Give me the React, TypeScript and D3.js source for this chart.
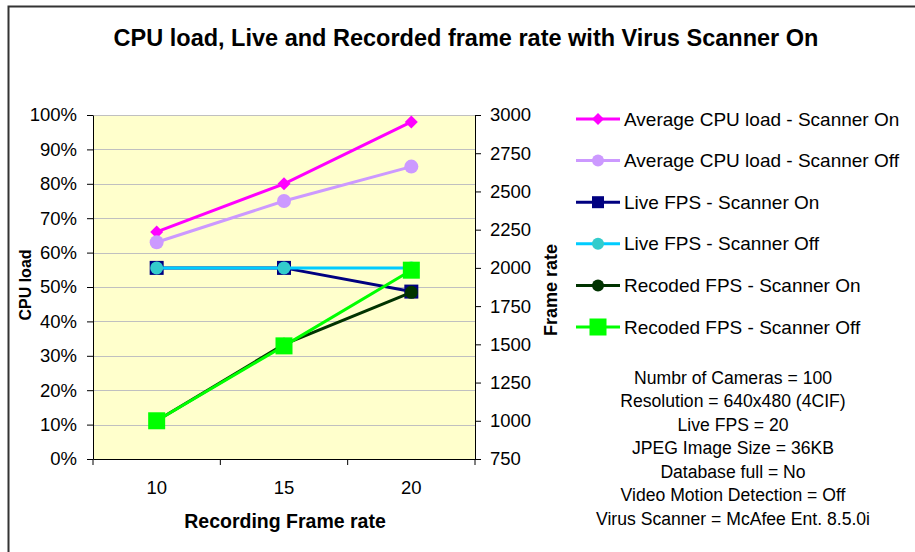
import React, { useEffect, useRef } from 'react';
import * as d3 from 'd3';

const categories = ['10', '15', '20'];
const cpuScannerOn = [0.66, 0.80, 0.98];
const cpuScannerOff = [0.63, 0.75, 0.85];
const liveScannerOn = [2000, 2000, 1845];
const liveScannerOff = [2000, 2000, 2000];
const recScannerOn = [1000, 1500, 1840];
const recScannerOff = [1000, 1490, 1985];
const leftTicks = [0, 0.1, 0.2, 0.3, 0.4, 0.5, 0.6, 0.7, 0.8, 0.9, 1];
const rightTicks = [750, 1000, 1250, 1500, 1750, 2000, 2250, 2500, 2750, 3000];
const notes = [
    'Numbr of Cameras = 100',
    'Resolution = 640x480 (4CIF)',
    'Live FPS = 20',
    'JPEG Image Size = 36KB',
    'Database full = No',
    'Video Motion Detection = Off',
    'Virus Scanner = McAfee Ent. 8.5.0i',
];

type Series = { name: string; values: number[]; axis: 'l' | 'r'; line: string; fill: string; shape: string; size: number };

const series: Series[] = [
    { name: 'Average CPU load - Scanner On', values: cpuScannerOn, axis: 'l', line: '#ff00ff', fill: '#ff00ff', shape: 'diamond', size: 13 },
    { name: 'Average CPU load - Scanner Off', values: cpuScannerOff, axis: 'l', line: '#cc99ff', fill: '#cc99ff', shape: 'circle', size: 14 },
    { name: 'Live FPS - Scanner On', values: liveScannerOn, axis: 'r', line: '#000080', fill: '#000080', shape: 'square', size: 14 },
    { name: 'Live FPS - Scanner Off', values: liveScannerOff, axis: 'r', line: '#00ccff', fill: '#33cccc', shape: 'circle', size: 13 },
    { name: 'Recoded FPS - Scanner On', values: recScannerOn, axis: 'r', line: '#003300', fill: '#003300', shape: 'circle', size: 13 },
    { name: 'Recoded FPS - Scanner Off', values: recScannerOff, axis: 'r', line: '#00ff00', fill: '#00ff00', shape: 'square', size: 17 },
];

const FONT = '"Liberation Sans", Arial, sans-serif';

function drawMarker(g: d3.Selection<SVGGElement, unknown, null, undefined>, s: Series, cx: number, cy: number, size: number) {
    const h = size / 2;
    if (s.shape === 'circle') {
        g.append('circle').attr('cx', cx).attr('cy', cy).attr('r', h).attr('fill', s.fill);
    } else if (s.shape === 'square') {
        g.append('rect').attr('x', cx - h).attr('y', cy - h).attr('width', size).attr('height', size).attr('fill', s.fill);
    } else {
        g.append('path').attr('d', `M${cx},${cy - h}L${cx + h},${cy}L${cx},${cy + h}L${cx - h},${cy}Z`).attr('fill', s.fill);
    }
}

export default function App() {
    const ref = useRef<SVGSVGElement | null>(null);
    useEffect(() => {
        const svg = d3.select(ref.current);
        svg.selectAll('*').remove();
        const width = 915, height = 552;
        const plot = { left: 93, right: 475, top: 115, bottom: 459 };

        const x = d3.scaleBand().domain(categories).range([plot.left, plot.right]);
        const yL = d3.scaleLinear().domain([0, 1]).range([plot.bottom, plot.top]);
        const yR = d3.scaleLinear().domain([750, 3000]).range([plot.bottom, plot.top]);
        const cx = (c: string) => x(c)! + x.bandwidth() / 2;

        svg.attr('viewBox', `0 0 ${width} ${height}`);
        svg.append('rect').attr('width', width).attr('height', height).attr('fill', '#fff');
        // outer chart frame, runs off the right and bottom
        svg.append('rect').attr('x', 8.5).attr('y', 6.5).attr('width', 1000).attr('height', 1000)
            .attr('fill', 'none').attr('stroke', '#333').attr('stroke-width', 2);

        svg.append('text').attr('x', 466).attr('y', 46).attr('text-anchor', 'middle')
            .style('font', `bold 23.5px ${FONT}`).text('CPU load, Live and Recorded frame rate with Virus Scanner On');

        // plot area
        svg.append('rect').attr('x', plot.left).attr('y', plot.top)
            .attr('width', plot.right - plot.left).attr('height', plot.bottom - plot.top).attr('fill', '#ffffcc');
        svg.append('g').selectAll('line').data(leftTicks.slice(1)).join('line')
            .attr('x1', plot.left).attr('x2', plot.right)
            .attr('y1', d => Math.round(yL(d)) + 0.5).attr('y2', d => Math.round(yL(d)) + 0.5)
            .attr('stroke', '#c0c0c0').attr('stroke-width', 1);

        const axisStyle = (g: d3.Selection<SVGGElement, unknown, null, undefined>) => {
            g.select('.domain').attr('stroke', '#000');
            g.selectAll('.tick line').attr('stroke', '#000');
            g.selectAll('.tick text').attr('fill', '#000').style('font', `18.5px ${FONT}`);
        };

        svg.append('g').attr('transform', `translate(${plot.left},0)`)
            .call(d3.axisLeft(yL).tickValues(leftTicks).tickFormat(d3.format('.0%')).tickSizeInner(6).tickSizeOuter(0).tickPadding(10))
            .call(axisStyle);
        svg.append('g').attr('transform', `translate(${plot.right},0)`)
            .call(d3.axisRight(yR).tickValues(rightTicks).tickFormat(d3.format('d')).tickSizeInner(6).tickSizeOuter(0).tickPadding(9))
            .call(axisStyle);
        const xg = svg.append('g').attr('transform', `translate(0,${plot.bottom})`)
            .call(d3.axisBottom(x).tickSize(0).tickPadding(22))
            .call(axisStyle);
        // category separators on the x axis
        const seps = [plot.left, ...categories.slice(1).map(c => x(c)!), plot.right];
        xg.selectAll('line.sep').data(seps).join('line').attr('class', 'sep')
            .attr('x1', d => d).attr('x2', d => d).attr('y1', 0).attr('y2', 6).attr('stroke', '#000');

        svg.append('text').attr('transform', 'translate(31,285) rotate(-90)').attr('text-anchor', 'middle')
            .style('font', `bold 16px ${FONT}`).text('CPU load');
        svg.append('text').attr('transform', 'translate(557,290) rotate(-90)').attr('text-anchor', 'middle')
            .style('font', `bold 18px ${FONT}`).text('Frame rate');
        svg.append('text').attr('x', 285).attr('y', 528).attr('text-anchor', 'middle')
            .style('font', `bold 19.5px ${FONT}`).text('Recording Frame rate');

        // series
        series.forEach(s => {
            const y = s.axis === 'l' ? yL : yR;
            const line = d3.line<number>().x((_, i) => cx(categories[i])).y(d => y(d));
            const g = svg.append('g');
            g.append('path').attr('d', line(s.values)).attr('fill', 'none').attr('stroke', s.line).attr('stroke-width', 3);
            s.values.forEach((v, i) => drawMarker(g, s, cx(categories[i]), y(v), s.size));
        });

        // legend
        const lg = svg.append('g');
        series.forEach((s, i) => {
            const ly = 119 + i * 41.6;
            lg.append('line').attr('x1', 576).attr('x2', 620).attr('y1', ly).attr('y2', ly)
                .attr('stroke', s.line).attr('stroke-width', 3);
            drawMarker(lg, s, 598, ly, s.shape === 'square' && s.size > 15 ? 17 : 12);
            lg.append('text').attr('x', 624).attr('y', ly + 6.5).style('font', `19px ${FONT}`).text(s.name);
        });

        svg.append('g').selectAll('text').data(notes).join('text')
            .attr('x', 733).attr('y', (_, i) => 383.5 + i * 23.5).attr('text-anchor', 'middle')
            .style('font', `17.6px ${FONT}`).text(d => d);
    }, []);
    return <svg ref={ref} width={915} height={552} style={{ position: 'absolute', left: 0, top: 0 }} />;
}
